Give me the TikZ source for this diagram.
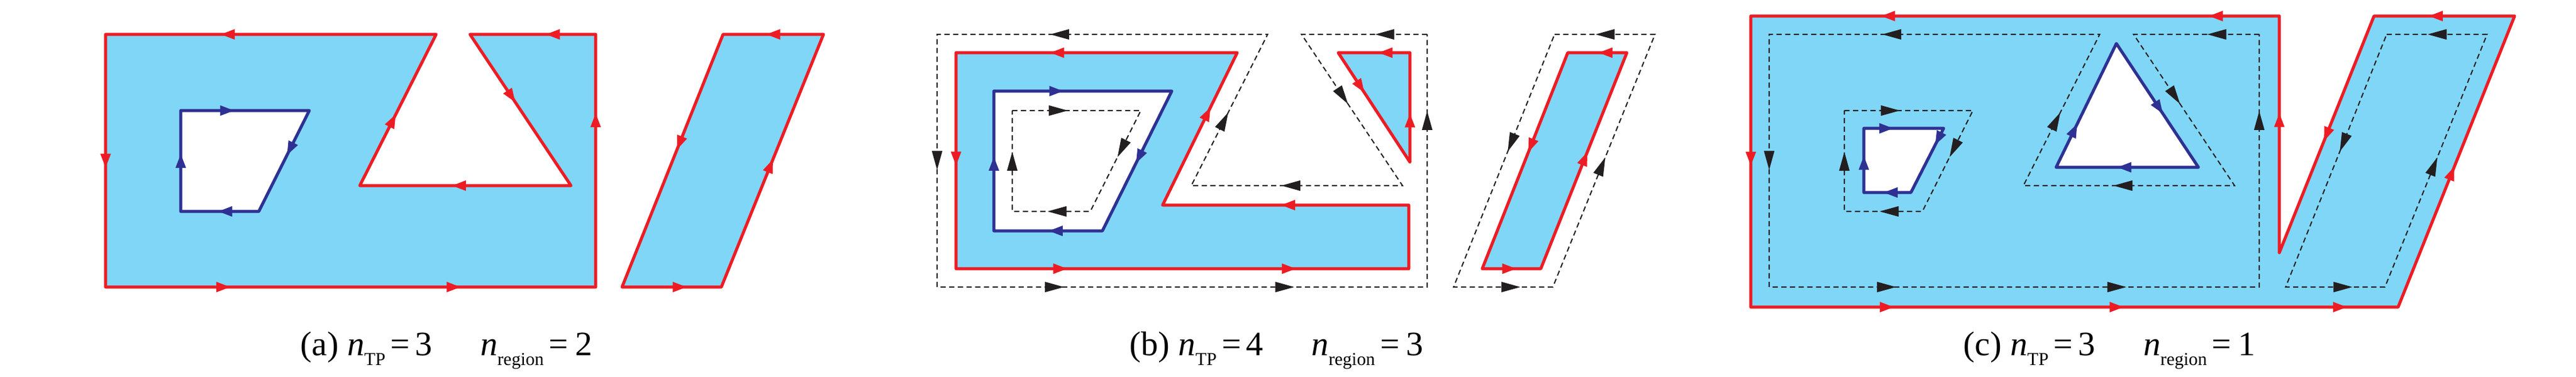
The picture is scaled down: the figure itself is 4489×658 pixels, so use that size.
\documentclass[tikz,border=0pt]{standalone}
\usepackage{fontspec}
\setmainfont{Liberation Serif}
\usetikzlibrary{arrows.meta,decorations.markings}

\definecolor{areablue}{RGB}{128,214,247}
\definecolor{edgered}{RGB}{237,28,36}
\definecolor{edgeblue}{RGB}{46,49,146}
\definecolor{pathblack}{RGB}{35,31,32}

\newcommand{\nsub}[1]{\textit{n}\raisebox{-5pt}{\fontsize{9}{11}\selectfont #1}}

\tikzset{
  redline/.style={draw=edgered, line width=1.5pt, line join=round},
  blueline/.style={draw=edgeblue, line width=1.5pt, line join=round},
  redarea/.style={redline, fill=areablue},
  bluehole/.style={blueline, fill=white},
  dashline/.style={draw=pathblack, line width=0.6pt, dash pattern=on 2.6pt off 1.7pt},
  redtip/.style={decorate, decoration={markings, mark=at position #1 with {\arrow[xshift=1.2mm]{Triangle[length=2.4mm,width=1.8mm,color=edgered]}}}},
  bluetip/.style={decorate, decoration={markings, mark=at position #1 with {\arrow[xshift=1.2mm]{Triangle[length=2.4mm,width=1.8mm,color=edgeblue]}}}},
  blacktip/.style={decorate, decoration={markings, mark=at position #1 with {\arrow[xshift=1.6mm]{Triangle[length=3.3mm,width=1.8mm,color=pathblack]}}}},
  panelcap/.style={font=\fontsize{17}{20}\selectfont, inner sep=0pt, anchor=base west}
}

\begin{document}
\begin{tikzpicture}[x=0.01cm, y=-0.01cm]
\useasboundingbox (0,0) rectangle (4489,658);

% (b) shrunk regions
\coordinate (B1) at (1666,92);
\coordinate (B2) at (1666,469);
\coordinate (B3) at (2455,469);
\coordinate (B4) at (2455,358);
\coordinate (B5) at (2026,358);
\coordinate (B6) at (2156,92);
\coordinate (T1) at (2332,92);
\coordinate (T2) at (2457,92);
\coordinate (T3) at (2457,283);
\coordinate (Q1) at (2732,92);
\coordinate (Q2) at (2835,92);
\coordinate (Q3) at (2685,469);
\coordinate (Q4) at (2583,469);
\coordinate (K1) at (1732,159);
\coordinate (K2) at (2042,159);
\coordinate (K3) at (1921,403);
\coordinate (K4) at (1732,403);
\fill[areablue, even odd rule] (B1)--(B2)--(B3)--(B4)--(B5)--(B6)--cycle
  (T1)--(T2)--(T3)--cycle (Q1)--(Q2)--(Q3)--(Q4)--cycle (K1)--(K2)--(K3)--(K4)--cycle;
\draw[redline] (B1)--(B2)--(B3)--(B4)--(B5)--(B6)--cycle;
\draw[redline] (T1)--(T2)--(T3)--cycle;
\draw[redline] (Q1)--(Q2)--(Q3)--(Q4)--cycle;
\draw[blueline] (K1)--(K2)--(K3)--(K4)--cycle;
\foreach \s/\e/\p in {B6/B1/0.64, B1/B2/0.49, B2/B3/0.23, B2/B3/0.735, B4/B5/0.49, B5/B6/0.6,
    T2/T1/0.34, T1/T3/0.31, T3/T2/0.38, Q2/Q1/0.36, Q1/Q4/0.43, Q4/Q3/0.46, Q3/Q2/0.51}
  \path[redtip=\p] (\s) -- (\e);
\foreach \s/\e/\p in {K1/K2/0.35, K2/K3/0.47, K3/K4/0.43, K4/K1/0.48}
  \path[bluetip=\p] (\s) -- (\e);

% (c) grown region
\coordinate (C1) at (3051,28);
\coordinate (C2) at (3051,536);
\coordinate (C3) at (4179,536);
\coordinate (C4) at (4382,28);
\coordinate (C5) at (4137,28);
\coordinate (C6) at (3972,441);
\coordinate (C7) at (3972,28);
\coordinate (S1) at (3248,224);
\coordinate (S2) at (3387,224);
\coordinate (S3) at (3330,336);
\coordinate (S4) at (3248,336);
\coordinate (D1) at (3583,292);
\coordinate (D2) at (3688,76);
\coordinate (D3) at (3831,292);
\fill[areablue, even odd rule] (C1)--(C2)--(C3)--(C4)--(C5)--(C6)--(C7)--cycle
  (S1)--(S2)--(S3)--(S4)--cycle (D1)--(D2)--(D3)--cycle;
\draw[redline] (C1)--(C2)--(C3)--(C4)--(C5)--(C6)--(C7)--cycle;
\draw[blueline] (S1)--(S2)--(S3)--(S4)--cycle;
\draw[blueline] (D1)--(D2)--(D3)--cycle;
\foreach \s/\e/\p in {C7/C1/0.12, C7/C1/0.74, C1/C2/0.49, C2/C3/0.21, C2/C3/0.565, C2/C3/0.91,
    C3/C4/0.46, C4/C5/0.56, C5/C6/0.5, C6/C7/0.56}
  \path[redtip=\p] (\s) -- (\e);
\foreach \s/\e/\p in {S1/S2/0.28, S2/S3/0.16, S3/S4/0.43, S4/S1/0.46, D1/D2/0.3, D2/D3/0.52, D3/D1/0.52}
  \path[bluetip=\p] (\s) -- (\e);

% original outline: solid in (a), dashed in (b) and (c)
\foreach \dx/\rimstyle/\holestyle/\rimtip/\holetip in {0/redarea/bluehole/redtip/bluetip,
    1449/dashline/dashline/blacktip/blacktip, 2899/dashline/dashline/blacktip/blacktip}{
\begin{scope}[shift={(\dx,0)}]
\coordinate (A1) at (184,60);
\coordinate (A2) at (184,501);
\coordinate (A3) at (1038,501);
\coordinate (A4) at (1038,60);
\coordinate (A5) at (819,60);
\coordinate (A6) at (995,324);
\coordinate (A7) at (627,324);
\coordinate (A8) at (760,60);
\coordinate (P1) at (1260,60);
\coordinate (P2) at (1435,60);
\coordinate (P3) at (1257,501);
\coordinate (P4) at (1084,501);
\coordinate (H1) at (315,193);
\coordinate (H2) at (539,193);
\coordinate (H3) at (451,369);
\coordinate (H4) at (315,369);
\draw[\rimstyle] (A4)--(A5)--(A6)--(A7)--(A8)--(A1)--(A2)--(A3)--cycle;
\draw[\rimstyle] (P1)--(P2)--(P3)--(P4)--cycle;
\draw[\holestyle] (H1)--(H2)--(H3)--(H4)--cycle;
\foreach \s/\e/\p in {A8/A1/0.63, A1/A2/0.5, A2/A3/0.24, A2/A3/0.71, A3/A4/0.66, A4/A5/0.34,
    A5/A6/0.41, A6/A7/0.53, A7/A8/0.43, P2/P1/0.5, P1/P4/0.43, P4/P3/0.58, P3/P2/0.48}
  \path[\rimtip=\p] (\s) -- (\e);
\foreach \s/\e/\p in {H1/H2/0.36, H2/H3/0.38, H3/H4/0.43, H4/H1/0.5}
  \path[\holetip=\p] (\s) -- (\e);
\end{scope}
}

\node[panelcap] (capa) at (523,620) {(a) \nsub{TP}\hspace{0.15em}=\hspace{0.15em}3\hspace{1.4em}\nsub{region}\hspace{0.15em}=\hspace{0.2em}2};
\node[panelcap] (capb) at (1968,620) {(b) \nsub{TP}\hspace{0.15em}=\hspace{0.15em}4\hspace{1.4em}\nsub{region}\hspace{0.15em}=\hspace{0.2em}3};
\node[panelcap] (capc) at (3421,620) {(c) \nsub{TP}\hspace{0.15em}=\hspace{0.15em}3\hspace{1.4em}\nsub{region}\hspace{0.15em}=\hspace{0.2em}1};
\end{tikzpicture}
\end{document}
